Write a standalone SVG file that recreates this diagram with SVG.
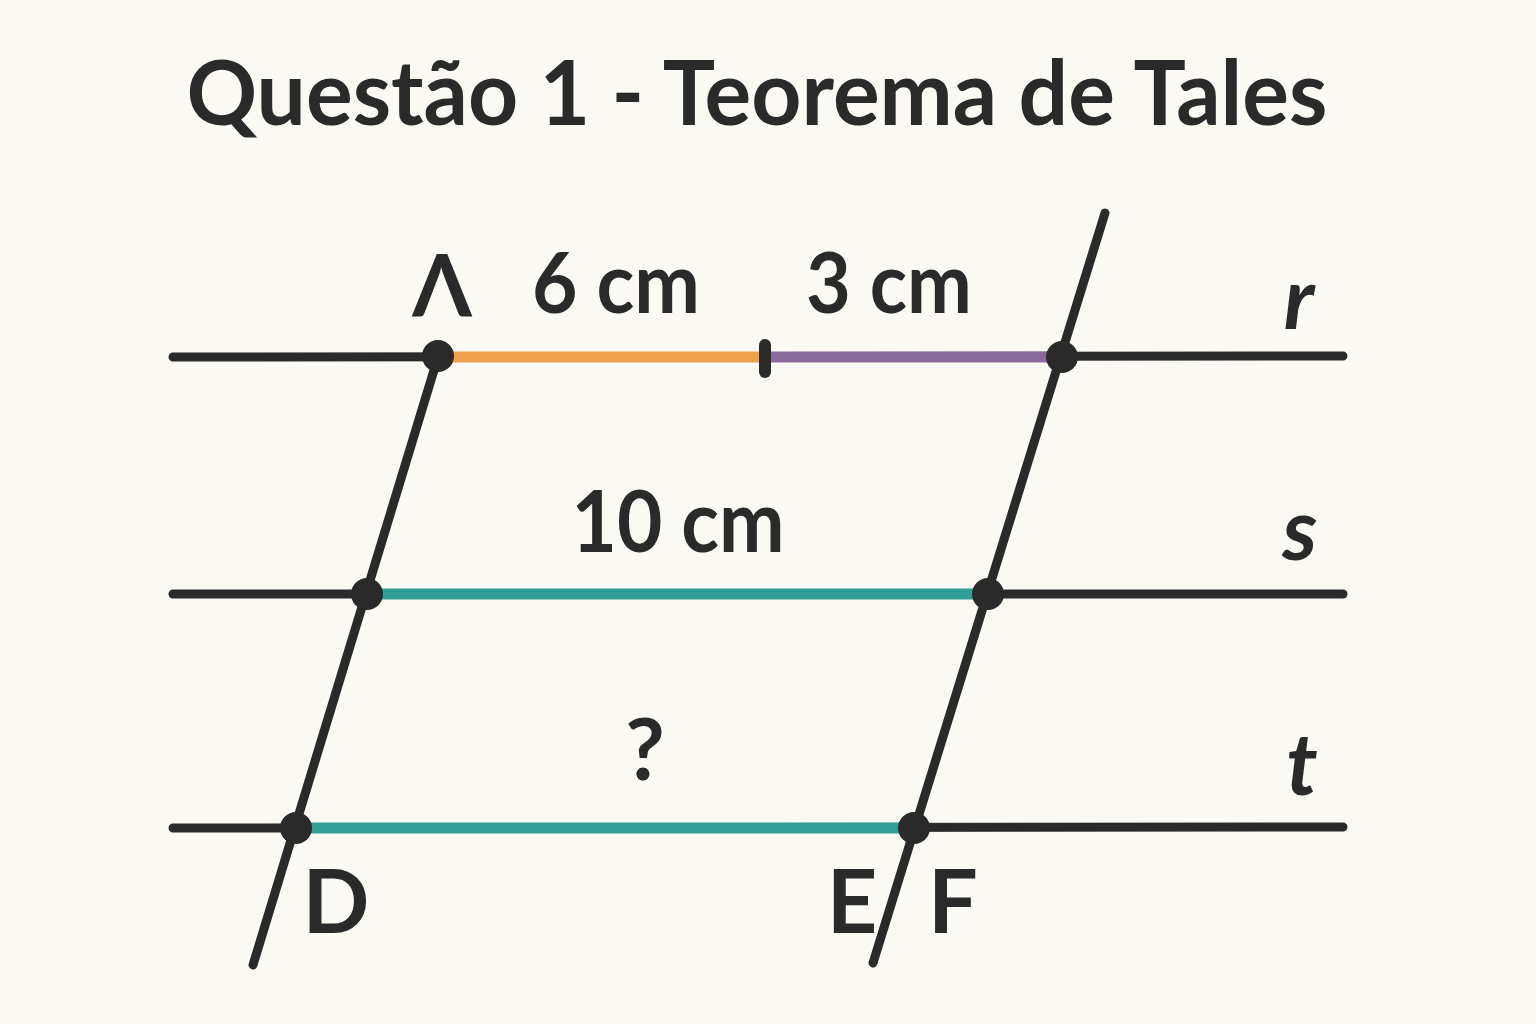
<svg xmlns="http://www.w3.org/2000/svg" width="1536" height="1024" viewBox="0 0 1536 1024">
<style>
.ln{stroke:#2a2a2a;stroke-width:9;stroke-linecap:round;fill:none}
.seg{stroke-width:11;stroke-linecap:butt;fill:none}
.dot{fill:#2a2a2a}
.t{font-family:Lato,"Open Sans","Liberation Sans",sans-serif;font-weight:700;fill:#2a2a2a}
.it{font-style:italic}
</style>
<rect width="1536" height="1024" fill="#FBF9F3"/>
<text class="t" x="757" y="125" font-size="90" text-anchor="middle" textLength="1141" lengthAdjust="spacingAndGlyphs">Questão 1 - Teorema de Tales</text>
<g id="lines">
<line class="ln" x1="173" y1="357" x2="1343" y2="356"/>
<line class="ln" x1="173" y1="594" x2="1343" y2="594"/>
<line class="ln" x1="173" y1="828" x2="1343" y2="827"/>
<line class="ln" x1="438" y1="357" x2="253" y2="965"/>
<line class="ln" x1="1105" y1="213" x2="873" y2="963"/>
</g>
<g id="segments">
<line class="seg" x1="438" y1="357" x2="765" y2="357" stroke="#EFA04A"/>
<line class="seg" x1="765" y1="357" x2="1062" y2="357" stroke="#8A6A9E"/>
<line class="seg" x1="367" y1="594" x2="988" y2="594" stroke="#2E9E96"/>
<line class="seg" x1="296" y1="828" x2="914" y2="828" stroke="#2E9E96"/>
<line x1="765" y1="345" x2="765" y2="372" stroke="#2a2a2a" stroke-width="12" stroke-linecap="round"/>
</g>
<g id="points">
<circle class="dot" cx="438" cy="356" r="16"/>
<circle class="dot" cx="1062" cy="357" r="16"/>
<circle class="dot" cx="367" cy="594" r="16"/>
<circle class="dot" cx="988" cy="594" r="16"/>
<circle class="dot" cx="296" cy="828" r="16"/>
<circle class="dot" cx="914" cy="828" r="16"/>
</g>
<g id="labels">
<text class="t" x="442" y="316" font-size="86" text-anchor="middle">Λ</text>
<text class="t" x="616" y="313" font-size="84" text-anchor="middle" textLength="168" lengthAdjust="spacingAndGlyphs">6 cm</text>
<text class="t" x="889" y="313" font-size="84" text-anchor="middle" textLength="166" lengthAdjust="spacingAndGlyphs">3 cm</text>
<text class="t" x="678" y="552" font-size="86" text-anchor="middle" textLength="213" lengthAdjust="spacingAndGlyphs">10 cm</text>
<text class="t" x="645" y="780" font-size="86" text-anchor="middle">?</text>
<text class="t it" x="1299" y="329" font-size="86" text-anchor="middle">r</text>
<text class="t it" x="1300" y="560" font-size="86" text-anchor="middle">s</text>
<text class="t it" x="1302" y="795" font-size="86" text-anchor="middle">t</text>
<text class="t" x="336" y="933" font-size="88" text-anchor="middle">D</text>
<text class="t" x="852" y="933" font-size="88" text-anchor="middle">E</text>
<text class="t" x="953" y="933" font-size="88" text-anchor="middle">F</text>
</g>
</svg>
